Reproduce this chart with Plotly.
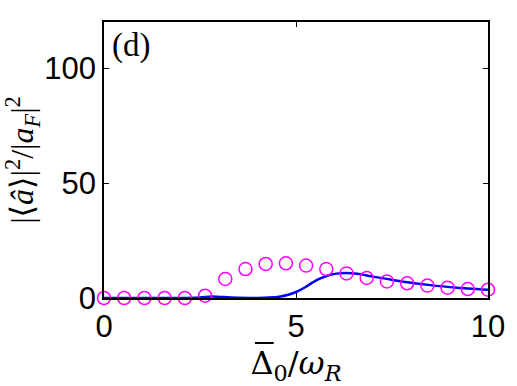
import plotly.graph_objects as go

# Data
x_circ = [0.0, 0.526, 1.053, 1.579, 2.105, 2.632, 3.158, 3.684, 4.211, 4.737,
          5.263, 5.789, 6.316, 6.842, 7.368, 7.895, 8.421, 8.947, 9.474, 10.0]
y_circ = [0.0, 0.0, 0.0, 0.0, 0.0, 1.0, 8.3, 12.6, 14.8, 15.1,
          14.1, 12.6, 10.7, 8.7, 7.2, 6.4, 5.4, 4.5, 3.9, 3.6]

x_line = [0.0, 1.0, 2.0, 2.5, 2.8, 3.1, 3.5, 4.0, 4.3, 4.6, 4.8, 5.0, 5.25, 5.45,
          5.65, 5.85, 6.05, 6.3, 6.6, 7.0, 7.4, 7.8, 8.5, 9.2, 10.0]
y_line = [0.0, 0.0, 0.0, 0.2, 0.6, 0.4, 0.1, 0.05, 0.2, 0.7, 1.4, 2.6, 4.8, 6.9,
          8.6, 9.9, 10.6, 10.9, 10.5, 9.3, 8.2, 7.1, 5.6, 4.5, 3.6]

x_ticks = [0, 5, 10]
y_ticks = [0, 50, 100]

fig = go.Figure()
fig.add_trace(go.Scatter(x=x_line, y=y_line, mode="lines",
                         line=dict(color="#0000FF", width=2.5, shape="spline", smoothing=0.6),
                         showlegend=False))
fig.add_trace(go.Scatter(x=x_circ, y=y_circ, mode="markers",
                         marker=dict(symbol="circle-open", size=13, color="#FF00FF",
                                     line=dict(width=1.5, color="#FF00FF")),
                         cliponaxis=False, showlegend=False))

axis_common = dict(showgrid=False, zeroline=False, showline=True, linecolor="black",
                   linewidth=1.5, mirror="ticks", ticks="inside", ticklen=5,
                   tickcolor="black", tickwidth=1,
                   tickfont=dict(family="Liberation Sans, Arial", size=31, color="black"))

fig.update_layout(
    width=517, height=386,
    margin=dict(l=104, r=27, t=22, b=88),
    paper_bgcolor="white", plot_bgcolor="white",
    xaxis=dict(range=[0, 10], tickvals=x_ticks, ticktext=[str(v) for v in x_ticks],
               title=dict(text="Δ<sub>0</sub>/<i>ω</i><sub><i>R</i></sub>",
                          font=dict(family="DejaVu Serif", size=32, color="black"),
                          standoff=4),
               **axis_common),
    yaxis=dict(range=[0, 120], tickvals=y_ticks, ticktext=[str(v) for v in y_ticks],
               title=dict(text="|⟨<i>â</i>⟩|<sup>2</sup>/|<i>a</i><sub><i>F</i></sub>|<sup>2</sup>",
                          font=dict(family="Liberation Serif, DejaVu Serif", size=32, color="black"),
                          standoff=4),
               **axis_common),
    annotations=[dict(text="(d)", x=0.015, y=0.99, xref="paper", yref="paper",
                      xanchor="left", yanchor="top", showarrow=False,
                      font=dict(family="Liberation Serif, DejaVu Serif", size=33, color="black"))],
    # overbar of the Δ in the x-axis title
    shapes=[dict(type="line", xref="paper", yref="paper",
                 x0=0.393, x1=0.442, y0=-0.163, y1=-0.163,
                 line=dict(color="black", width=2))],
)

fig.write_html("out.html")
